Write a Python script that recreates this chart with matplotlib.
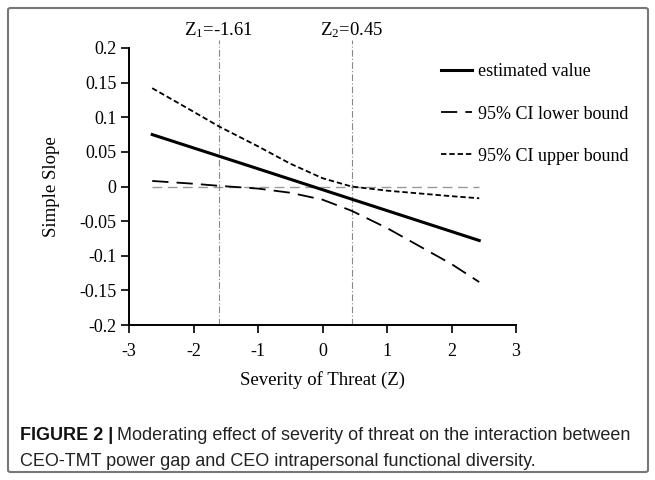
import matplotlib
matplotlib.use("Agg")
import matplotlib.pyplot as plt
from matplotlib.patches import FancyBboxPatch

# Values
z_vals = [-2.64, -2.0, -1.61, -1.0, -0.5, 0.0, 0.45, 1.0, 1.5, 2.0, 2.43]
estimated = [0.075, 0.0557, 0.0440, 0.0256, 0.0105, -0.0046, -0.0182, -0.0348, -0.0499, -0.0650, -0.0780]
ci_lower = [0.008, 0.004, 0.001, -0.003, -0.009, -0.019, -0.035, -0.060, -0.086, -0.112, -0.138]
ci_upper = [0.142, 0.108, 0.087, 0.058, 0.033, 0.012, 0.0, -0.006, -0.010, -0.014, -0.017]

z_marks = [-1.61, 0.45]
z_mark_labels = ["Z$_1$=-1.61", "Z$_2$=0.45"]

xticks = [-3, -2, -1, 0, 1, 2, 3]
xtick_labels = ["-3", "-2", "-1", "0", "1", "2", "3"]
yticks = [0.2, 0.15, 0.1, 0.05, 0, -0.05, -0.1, -0.15, -0.2]
ytick_labels = ["0.2", "0.15", "0.1", "0.05", "0", "-0.05", "-0.1", "-0.15", "-0.2"]

serif = "Liberation Serif"
plt.rcParams["font.family"] = serif
plt.rcParams["mathtext.fontset"] = "custom"
plt.rcParams["mathtext.rm"] = serif
plt.rcParams["mathtext.it"] = serif

fig = plt.figure(figsize=(6.55, 4.8), dpi=100)
ax = fig.add_axes([129 / 655, 1 - 325 / 480, (516 - 129) / 655, (325 - 48) / 480])

# zero reference line
ax.plot([z_vals[0], z_vals[-1]], [0, 0], color="#999999", lw=1.0, dashes=(7, 4))

# Johnson-Neyman points
for zm, lab in zip(z_marks, z_mark_labels):
    ax.plot([zm, zm], [-0.2, 0.211], color="#888888", lw=0.8,
            dashes=(6, 2, 1, 2), clip_on=False)
    ax.text(zm, 0.226, lab, ha="center", va="center", fontsize=13.5)

l1, = ax.plot(z_vals, estimated, color="black", lw=2.2, label="estimated value")
l2, = ax.plot(z_vals, ci_lower, color="black", lw=1.3, dashes=(9, 4.5),
              label="95% CI lower bound")
l3, = ax.plot(z_vals, ci_upper, color="black", lw=1.3, dashes=(3, 1.6),
              label="95% CI upper bound")

ax.set_xlim(-3, 3)
ax.set_ylim(-0.2, 0.2)
ax.set_xticks(xticks)
ax.set_xticklabels(xtick_labels)
ax.set_yticks(yticks)
ax.set_yticklabels(ytick_labels)
ax.tick_params(labelsize=13, width=1.2, length=6, direction="out", pad=3)
ax.tick_params(axis="x", pad=7)
ax.spines["top"].set_visible(False)
ax.spines["right"].set_visible(False)
for s in ("left", "bottom"):
    ax.spines[s].set_linewidth(1.4)

ax.set_xlabel("Severity of Threat (Z)", fontsize=13.5, labelpad=8)
ax.set_ylabel("Simple Slope", fontsize=13.5, labelpad=14)

fig.legend(handles=[l1, l2, l3], loc="upper left",
           bbox_to_anchor=(425 / 655, 1 - 47 / 480), frameon=False,
           fontsize=13, handlelength=1.7, handletextpad=0.35,
           labelspacing=1.4)

# figure frame
frame = FancyBboxPatch((8 / 655, 8 / 480), 640 / 655, 464 / 480,
                       boxstyle="round,pad=0,rounding_size=0.004",
                       transform=fig.transFigure, fill=False,
                       edgecolor="#777777", lw=1.5)
fig.add_artist(frame)

# caption
cap_font = "Liberation Sans"
t1 = fig.text(20 / 655, 1 - 436 / 480, "FIGURE 2 |", fontsize=13,
              fontweight="bold", family=cap_font, va="center", color="#111111")
ax.annotate("Moderating effect of severity of threat on the interaction between",
            xy=(1, 0.5), xycoords=t1, xytext=(3, 0), textcoords="offset points",
            va="center", fontsize=13, family=cap_font, color="#222222",
            annotation_clip=False)
fig.text(20 / 655, 1 - 461 / 480,
         "CEO-TMT power gap and CEO intrapersonal functional diversity.",
         fontsize=13, family=cap_font, va="center", color="#222222")

fig.savefig("out.png", dpi=100)
